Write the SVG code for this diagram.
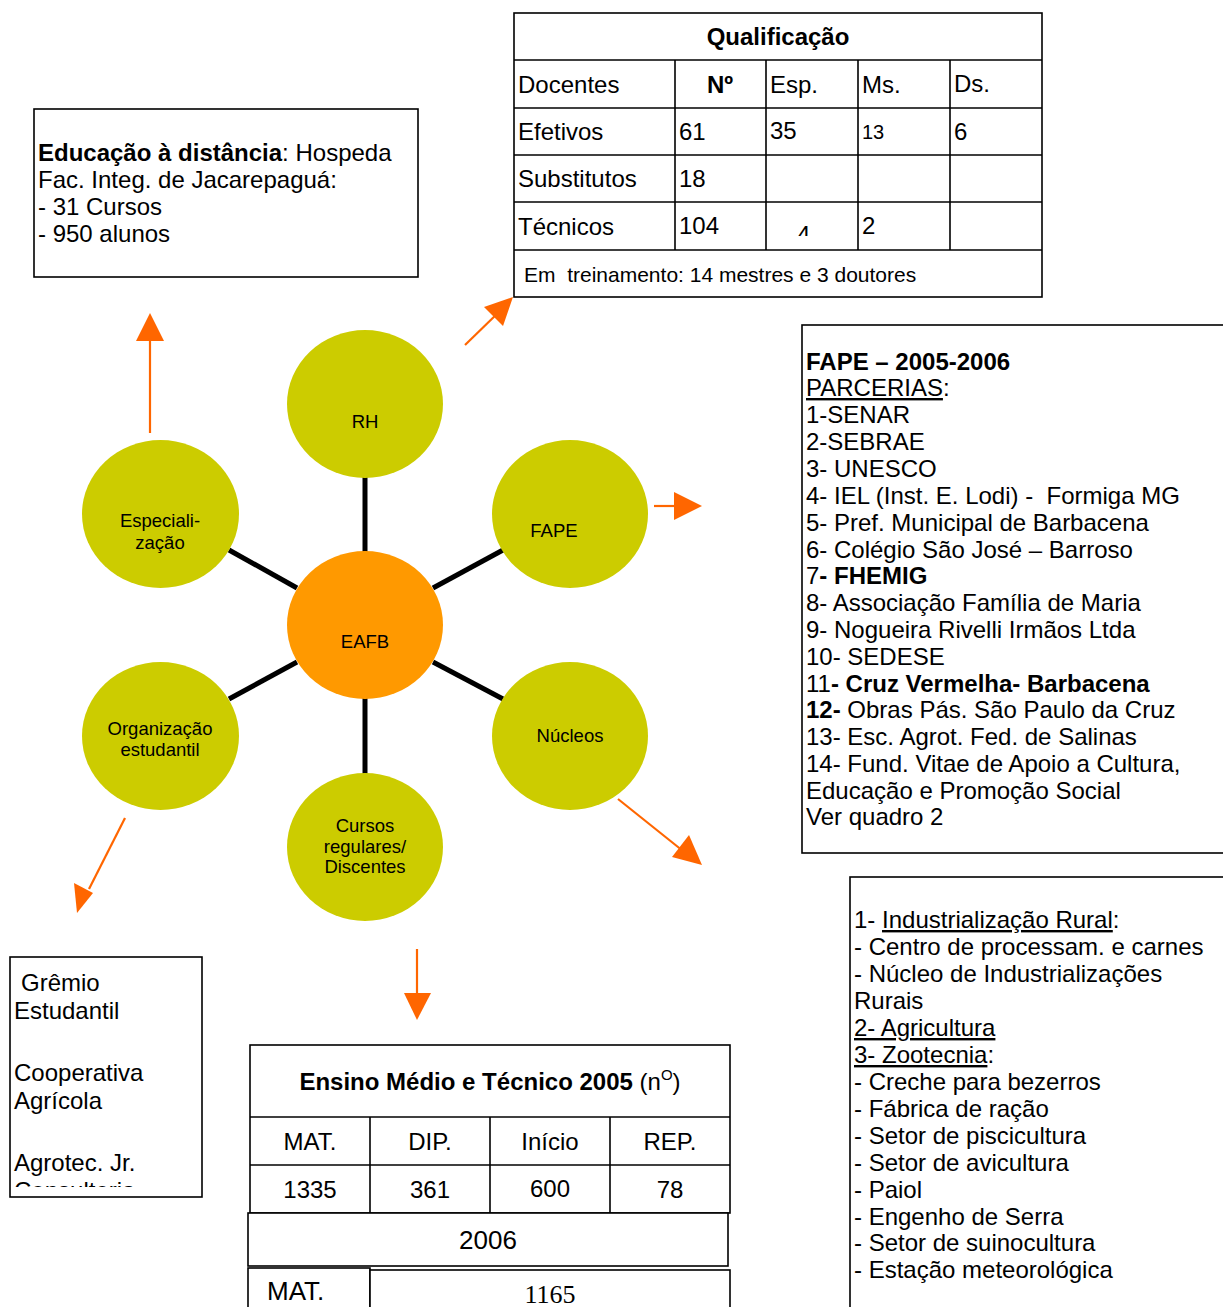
<svg xmlns="http://www.w3.org/2000/svg" width="1223" height="1307" viewBox="0 0 1223 1307">
<style>
text{font-family:"Liberation Sans",Arial,sans-serif;fill:#000}
.box{fill:#fff;stroke:#000;stroke-width:1.6}
.cell{fill:none;stroke:#000;stroke-width:1.6}
.node{fill:#CCCC00}
.core{fill:#FF9900}
.lbl{font-size:18.5px;text-anchor:middle}
.t24{font-size:24px}
.b{font-weight:bold}
.link{stroke:#000;stroke-width:5}
.arr{stroke:#FF6600;stroke-width:2.2;fill:none}
.head{fill:#FF6600}
.c{text-anchor:middle}
</style>
<defs>
<clipPath id="clipLeft"><rect x="10" y="957" width="192" height="230"/></clipPath>
<clipPath id="clipTec"><rect x="766" y="202" width="92" height="34"/></clipPath>
</defs>
<rect width="1223" height="1307" fill="#fff"/>

<g id="connectors">
<line class="link" x1="365" y1="477" x2="365" y2="553"/>
<line class="link" x1="229" y1="550" x2="297" y2="588"/>
<line class="link" x1="503" y1="550" x2="433" y2="588"/>
<line class="link" x1="229" y1="699" x2="297" y2="662"/>
<line class="link" x1="503" y1="699" x2="433" y2="662"/>
<line class="link" x1="365" y1="697" x2="365" y2="775"/>
<line class="arr" x1="150" y1="433" x2="150" y2="338"/>
<polygon class="head" points="150,313 136,341 164,341"/>
<line class="arr" x1="465" y1="345" x2="500" y2="311"/>
<polygon class="head" points="513,297 484,307 503,326"/>
<line class="arr" x1="654" y1="506" x2="676" y2="506"/>
<polygon class="head" points="702,506 674,492 674,520"/>
<line class="arr" x1="618" y1="799" x2="683" y2="851"/>
<polygon class="head" points="702,865 672,857 689,835"/>
<line class="arr" x1="125" y1="818" x2="89" y2="889"/>
<polygon class="head" points="77,913 74,883 93,893"/>
<line class="arr" x1="417" y1="949" x2="417" y2="995"/>
<polygon class="head" points="417,1020 404,993 431,993"/>
</g>

<g id="node-rh"><ellipse class="node" cx="365" cy="404" rx="78" ry="74"/><text class="lbl" x="365" y="428">RH</text></g>
<g id="node-especializacao"><ellipse class="node" cx="160.5" cy="514" rx="78.5" ry="74"/><text class="lbl" x="160" y="527">Especiali-</text><text class="lbl" x="160" y="549">zação</text></g>
<g id="node-fape"><ellipse class="node" cx="570" cy="514" rx="78" ry="74"/><text class="lbl" x="554" y="537">FAPE</text></g>
<g id="node-eafb"><ellipse class="core" cx="365" cy="625" rx="78" ry="74"/><text class="lbl" x="365" y="648">EAFB</text></g>
<g id="node-organizacao"><ellipse class="node" cx="160.5" cy="736" rx="78.5" ry="74"/><text class="lbl" x="160" y="735">Organização</text><text class="lbl" x="160" y="756">estudantil</text></g>
<g id="node-nucleos"><ellipse class="node" cx="570" cy="736" rx="78" ry="74"/><text class="lbl" x="570" y="742">Núcleos</text></g>
<g id="node-cursos"><ellipse class="node" cx="365" cy="847" rx="78" ry="74"/><text class="lbl" x="365" y="832">Cursos</text><text class="lbl" x="365" y="853">regulares/</text><text class="lbl" x="365" y="873">Discentes</text></g>

<g id="box-ead">
<rect class="box" x="34" y="109" width="384" height="168"/>
<g class="t24">
<text x="38" y="161"><tspan class="b">Educação à distância</tspan>: Hospeda</text>
<text x="38" y="188">Fac. Integ. de Jacarepaguá:</text>
<text x="38" y="215">- 31 Cursos</text>
<text x="38" y="242">- 950 alunos</text>
</g>
</g>

<g id="table-qualificacao">
<rect class="box" x="514" y="13" width="528" height="284"/>
<line class="cell" x1="514" y1="60" x2="1042" y2="60"/>
<line class="cell" x1="514" y1="108" x2="1042" y2="108"/>
<line class="cell" x1="514" y1="155" x2="1042" y2="155"/>
<line class="cell" x1="514" y1="202" x2="1042" y2="202"/>
<line class="cell" x1="514" y1="250" x2="1042" y2="250"/>
<line class="cell" x1="675" y1="60" x2="675" y2="250"/>
<line class="cell" x1="766" y1="60" x2="766" y2="250"/>
<line class="cell" x1="858" y1="60" x2="858" y2="250"/>
<line class="cell" x1="950" y1="60" x2="950" y2="250"/>
<g class="t24">
<text class="b c" x="778" y="45">Qualificação</text>
<text x="518" y="93">Docentes</text>
<text class="b c" x="720" y="93">Nº</text>
<text x="770" y="93">Esp.</text>
<text x="862" y="93">Ms.</text>
<text x="954" y="92">Ds.</text>
<text x="518" y="140">Efetivos</text>
<text x="679" y="140">61</text>
<text x="770" y="139">35</text>
<text x="862" y="139" font-size="20">13</text>
<text x="954" y="140">6</text>
<text x="518" y="187">Substitutos</text>
<text x="679" y="187">18</text>
<text x="518" y="235">Técnicos</text>
<text x="679" y="234">104</text>
<text x="797" y="243" clip-path="url(#clipTec)">4</text>
<text x="862" y="234">2</text>
</g>
<text x="524" y="282" font-size="21">Em&#160; treinamento: 14 mestres e 3 doutores</text>
</g>

<g id="box-fape">
<rect class="box" x="802" y="325" width="430" height="528"/>
<g class="t24">
<text x="806" y="370" class="b">FAPE – 2005-2006</text>
<text x="806" y="396"><tspan text-decoration="underline">PARCERIAS</tspan>:</text>
<text x="806" y="423">1-SENAR</text>
<text x="806" y="450">2-SEBRAE</text>
<text x="806" y="477">3- UNESCO</text>
<text x="806" y="504">4- IEL (Inst. E. Lodi) -&#160; Formiga MG</text>
<text x="806" y="531">5- Pref. Municipal de Barbacena</text>
<text x="806" y="558">6- Colégio São José – Barroso</text>
<text x="806" y="584">7<tspan class="b">- FHEMIG</tspan></text>
<text x="806" y="611">8- Associação Família de Maria</text>
<text x="806" y="638">9- Nogueira Rivelli Irmãos Ltda</text>
<text x="806" y="665">10- SEDESE</text>
<text x="806" y="692">11<tspan class="b">- Cruz Vermelha- Barbacena</tspan></text>
<text x="806" y="718"><tspan class="b">12-</tspan> Obras Pás. São Paulo da Cruz</text>
<text x="806" y="745">13- Esc. Agrot. Fed. de Salinas</text>
<text x="806" y="772">14- Fund. Vitae de Apoio a Cultura,</text>
<text x="806" y="799">Educação e Promoção Social</text>
<text x="806" y="825">Ver quadro 2</text>
</g>
</g>

<g id="box-nucleos">
<rect class="box" x="850" y="877" width="380" height="440"/>
<g class="t24">
<text x="854" y="928">1- <tspan text-decoration="underline">Industrialização Rural</tspan>:</text>
<text x="854" y="955">- Centro de processam. e carnes</text>
<text x="854" y="982">- Núcleo de Industrializações</text>
<text x="854" y="1009">Rurais</text>
<text x="854" y="1036" text-decoration="underline">2- Agricultura</text>
<text x="854" y="1063"><tspan text-decoration="underline">3- Zootecnia</tspan>:</text>
<text x="854" y="1090">- Creche para bezerros</text>
<text x="854" y="1117">- Fábrica de ração</text>
<text x="854" y="1144">- Setor de piscicultura</text>
<text x="854" y="1171">- Setor de avicultura</text>
<text x="854" y="1198">- Paiol</text>
<text x="854" y="1225">- Engenho de Serra</text>
<text x="854" y="1251">- Setor de suinocultura</text>
<text x="854" y="1278">- Estação meteorológica</text>
</g>
</g>

<g id="box-organizacao">
<rect class="box" x="10" y="957" width="192" height="240"/>
<g class="t24" clip-path="url(#clipLeft)">
<text x="21" y="991">Grêmio</text>
<text x="14" y="1019">Estudantil</text>
<text x="14" y="1081">Cooperativa</text>
<text x="14" y="1109">Agrícola</text>
<text x="14" y="1171">Agrotec. Jr.</text>
<text x="14" y="1199">Consultoria</text>
</g>
</g>

<g id="table-ensino">
<rect class="box" x="250" y="1045" width="480" height="168"/>
<line class="cell" x1="250" y1="1117" x2="730" y2="1117"/>
<line class="cell" x1="250" y1="1165" x2="730" y2="1165"/>
<line class="cell" x1="370" y1="1117" x2="370" y2="1213"/>
<line class="cell" x1="490" y1="1117" x2="490" y2="1213"/>
<line class="cell" x1="610" y1="1117" x2="610" y2="1213"/>
<g class="t24">
<text class="c" x="490" y="1090"><tspan class="b">Ensino Médio e Técnico 2005</tspan> (n<tspan font-size="15" dy="-10">O</tspan><tspan dy="10">)</tspan></text>
<text class="c" x="310" y="1150">MAT.</text>
<text class="c" x="430" y="1150">DIP.</text>
<text class="c" x="550" y="1150">Início</text>
<text class="c" x="670" y="1150">REP.</text>
<text class="c" x="310" y="1198">1335</text>
<text class="c" x="430" y="1198">361</text>
<text class="c" x="550" y="1197">600</text>
<text class="c" x="670" y="1198">78</text>
</g>
<rect class="box" x="248" y="1213" width="480" height="53"/>
<text class="c" x="488" y="1249" font-size="26">2006</text>
<rect class="box" x="248" y="1268" width="122" height="50"/>
<text x="267" y="1300" font-size="26">MAT.</text>
<rect class="box" x="370" y="1270" width="360" height="50"/>
<text class="c" x="550" y="1303" font-size="26" style="font-family:'Liberation Serif','Times New Roman',serif">1165</text>
</g>
</svg>
